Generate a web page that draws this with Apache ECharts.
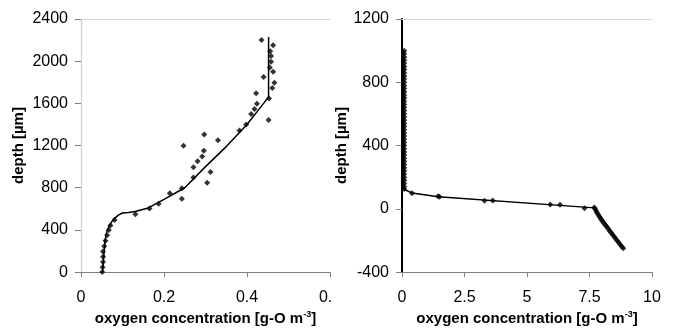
<!DOCTYPE html>
<html>
<head>
<meta charset="utf-8">
<script src="https://cdn.jsdelivr.net/npm/echarts@6/dist/echarts.min.js"></script>
<style>
  html, body { margin: 0; padding: 0; background: #fff; }
  #chart { width: 673px; height: 331px; }
</style>
</head>
<body>
<div id="chart"></div>
<script>
// left panel: measured points and model line [oxygen, depth]
const leftMeasured = [
  [0.435, 2200], [0.463, 2150], [0.456, 2095], [0.458, 2050], [0.458, 1995],
  [0.455, 1940], [0.463, 1900], [0.440, 1850], [0.466, 1795], [0.461, 1745],
  [0.422, 1695], [0.453, 1645], [0.424, 1597], [0.418, 1547], [0.410, 1498],
  [0.452, 1442], [0.398, 1399], [0.382, 1343], [0.330, 1250], [0.297, 1305],
  [0.247, 1197], [0.296, 1150], [0.292, 1095], [0.281, 1051], [0.271, 995],
  [0.312, 949], [0.271, 896], [0.304, 847], [0.243, 794], [0.243, 695],
  [0.214, 747], [0.187, 648], [0.165, 602], [0.131, 549], [0.081, 493],
  [0.071, 443], [0.067, 400], [0.063, 350], [0.059, 298], [0.056, 245],
  [0.053, 195], [0.053, 146], [0.053, 96], [0.052, 47], [0.051, 0]
];
const leftModel = [
  [0.052, 0], [0.054, 100], [0.056, 200], [0.058, 300], [0.062, 380],
  [0.068, 440], [0.078, 500], [0.090, 540], [0.100, 560], [0.115, 565],
  [0.130, 575], [0.160, 605], [0.200, 690], [0.250, 800], [0.300, 1000],
  [0.350, 1190], [0.400, 1400], [0.440, 1600], [0.452, 1660], [0.452, 2230]
];

// right panel
const rightColumnDepths = [1000, 980, 960, 940, 920, 900, 880, 860, 840, 820,
  800, 780, 760, 740, 720, 700, 680, 660, 640, 620, 600, 580, 560, 540, 520,
  500, 480, 460, 440, 420, 400, 380, 360, 340, 320, 300, 280, 260, 240, 220,
  200, 180, 160, 140, 125];
const rightColumnOxygen = 0.09;
const rightMeasured = [
  [0.40, 99], [1.44, 79], [1.50, 76], [3.30, 51], [3.63, 53],
  [5.93, 27], [6.32, 25], [7.30, 4], [7.69, 8],
  [7.72, 0], [7.76, -12], [7.80, -25], [7.85, -37], [7.90, -50],
  [7.95, -62], [8.00, -75], [8.06, -88], [8.12, -100], [8.18, -112],
  [8.24, -125], [8.30, -138], [8.36, -150], [8.42, -162], [8.48, -175],
  [8.54, -188], [8.60, -200], [8.66, -212], [8.72, -225], [8.79, -238], [8.85, -250]
];
const rightModel = [
  [0.07, 1000], [0.07, 125], [0.40, 100], [1.45, 77], [7.70, 6],
  [8.20, -105], [8.88, -252]
];

const leftYTicks = [0, 2400, 400];
const leftXTicks = [0, 0.6, 0.2];
const rightYTicks = [-400, 1200, 400];
const rightXTicks = [0, 10, 2.5];

const xName = 'oxygen concentration [g-O m{sup|-3}]';
const yName = 'depth [µm]';

const font = '"Liberation Sans", Arial, sans-serif';
const nameStyle = {
  fontFamily: font, fontWeight: 'bold', fontSize: 15, color: '#000',
  rich: { sup: { fontFamily: font, fontWeight: 'bold', fontSize: 9, color: '#000', padding: [0, 0, 8, 0] } }
};
const labelStyle = { fontFamily: font, fontSize: 16, color: '#000', formatter: v => String(v) };

function xAxisCfg(grid, ticks) {
  return {
    type: 'value', gridIndex: grid, min: ticks[0], max: ticks[1], interval: ticks[2],
    name: xName, nameLocation: 'middle', nameGap: 36, nameTextStyle: nameStyle,
    axisLine: { show: true, onZero: false, lineStyle: { color: '#7f7f7f', width: 1.2 } },
    axisTick: { show: true, length: 5, lineStyle: { color: '#7f7f7f' } },
    axisLabel: Object.assign({ margin: 17 }, labelStyle),
    splitLine: { show: false }
  };
}
function topAxisCfg(grid, ticks) {
  return {
    type: 'value', gridIndex: grid, position: 'top', min: ticks[0], max: ticks[1],
    axisLine: { show: true, onZero: false, lineStyle: { color: '#d9d9d9', width: 1.2 } },
    axisTick: { show: false }, axisLabel: { show: false }, splitLine: { show: false }
  };
}
function yAxisCfg(grid, ticks, axisColor, axisWidth, gap) {
  return {
    type: 'value', gridIndex: grid, min: ticks[0], max: ticks[1], interval: ticks[2],
    name: yName, nameLocation: 'middle', nameGap: gap, nameRotate: 90, nameTextStyle: nameStyle,
    axisLine: { show: true, onZero: false, lineStyle: { color: axisColor, width: axisWidth } },
    axisTick: { show: true, length: 6, lineStyle: { color: '#7f7f7f' } },
    axisLabel: Object.assign({ margin: 13 }, labelStyle),
    splitLine: { show: false }
  };
}

const chart = echarts.init(document.getElementById('chart'), null, { renderer: 'canvas' });

const markerStyle = { color: '#000' };
const lineStyle = { color: '#000', width: 1.5 };

chart.setOption({
  animation: false,
  backgroundColor: '#fff',
  grid: [
    { left: 81, top: 19, width: 249, height: 258 },
    { left: 402, top: 19, width: 250, height: 258 }
  ],
  xAxis: [
    xAxisCfg(0, leftXTicks),
    xAxisCfg(1, rightXTicks),
    topAxisCfg(0, leftXTicks),
    topAxisCfg(1, rightXTicks)
  ],
  yAxis: [
    yAxisCfg(0, leftYTicks, '#d0d0d0', 1.2, 55),
    yAxisCfg(1, rightYTicks, '#000', 2, 52)
  ],
  series: [
    {
      type: 'line', xAxisIndex: 0, yAxisIndex: 0, data: leftModel,
      showSymbol: false, lineStyle: lineStyle, z: 3
    },
    {
      type: 'scatter', xAxisIndex: 0, yAxisIndex: 0, data: leftMeasured,
      symbol: 'diamond', symbolSize: 6, itemStyle: markerStyle, z: 4
    },
    {
      type: 'line', xAxisIndex: 1, yAxisIndex: 1, data: rightModel,
      showSymbol: false, lineStyle: lineStyle, z: 3
    },
    {
      type: 'scatter', xAxisIndex: 1, yAxisIndex: 1,
      data: rightColumnDepths.map(d => [rightColumnOxygen, d]).concat(rightMeasured),
      symbol: 'diamond', symbolSize: 6, itemStyle: markerStyle, z: 4
    }
  ],
  graphic: [
    // right panel's chart area sits over the tail of the left panel's last tick label
    { type: 'rect', left: 331, top: 288, shape: { width: 12, height: 22 }, style: { fill: '#fff' }, z: 100 }
  ]
});
</script>
</body>
</html>
